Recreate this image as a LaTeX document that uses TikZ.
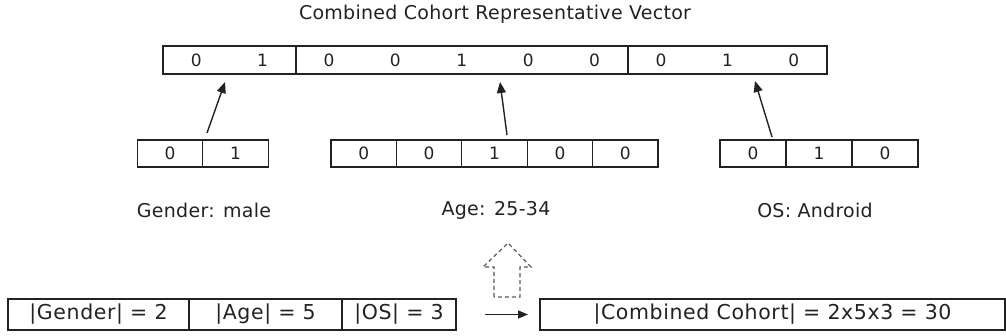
\documentclass[tikz,border=0pt]{standalone}
\usepackage{fontspec}
\setmainfont{DejaVu Sans}
\newfontfamily\labelfont{DejaVu Sans}[LetterSpace=1.5]
\newfontfamily\sizefont{DejaVu Sans}[LetterSpace=3]
\usetikzlibrary{arrows.meta}
\definecolor{ink}{HTML}{222222}
\begin{document}
\begin{tikzpicture}[x=1pt,y=-1pt,
  every node/.style={text=ink,inner sep=0pt,outer sep=0pt},
  caption/.style={font=\labelfont\fontsize{19}{22}\selectfont},
  bit/.style={font=\fontsize{17}{20}\selectfont},
  sizetext/.style={font=\sizefont\fontsize{20.5}{24}\selectfont},
  frame/.style={draw=ink,line width=1.4pt,minimum height=#1},
  frame/.default=28pt,
  cell/.style={draw=ink,line width=1.3pt,minimum height=27pt,minimum width=#1},
  pointer/.style={draw=ink,line width=1.4pt,-{Triangle[length=11pt,width=9pt]}}]
\useasboundingbox (0,0) rectangle (1006,336);

% title
\node[caption] (title) at (495,14) {Combined Cohort Representative Vector};

% combined vector: three groups of cells
\node[frame,minimum width=133pt] (vg) at (229.5,60) {};
\node[frame,minimum width=332pt] (va) at (462,60) {};
\node[frame,minimum width=199pt] (vo) at (727.5,60) {};
\foreach \v [count=\i from 0] in {0,1,0,0,1,0,0,0,1,0}
  \node[bit] (v\i) at ({163+66.4*(\i+0.5)},60) {\v};

% gender one-hot
\node[cell=65.5pt,bit] (g0) at (170,153.5) {0};
\node[cell=65.5pt,bit] (g1) at (235.5,153.5) {1};
% age one-hot
\foreach \v [count=\i from 0] in {0,0,1,0,0}
  \node[cell=65.4pt,bit] (a\i) at ({331+65.4*(\i+0.5)},153.5) {\v};
% os one-hot
\foreach \v [count=\i from 0] in {0,1,0}
  \node[cell=66pt,bit] (o\i) at ({720+66*(\i+0.5)},153.5) {\v};

% attribute labels
\node[caption] (lg) at (204,210) {Gender: male};
\node[caption] (la) at (496,210) {Age: 25-34};
\node[caption] (lo) at (815,210) {OS: Android};

% pointers into the combined vector
\coordinate (gt) at (207,133);
\coordinate (gh) at (225,82);
\coordinate (at) at (507,135);
\coordinate (ah) at (500,82);
\coordinate (ot) at (772,137);
\coordinate (oh) at (755,81);
\draw[pointer] (gt) -- (gh);
\draw[pointer] (at) -- (ah);
\draw[pointer] (ot) -- (oh);

% cardinalities
\node[cell=181pt,minimum height=31pt,sizetext] (cg) at (98.5,314.5) {|Gender| = 2};
\node[cell=153pt,minimum height=31pt,sizetext] (ca) at (265.5,314.5) {|Age| = 5};
\node[cell=114pt,minimum height=31pt,sizetext] (co) at (399,314.5) {|OS| = 3};
\node[cell=465pt,minimum height=31pt,sizetext] (cc) at (772.5,314.5) {|Combined Cohort| = 2x5x3 = 30};
\draw[draw=ink,line width=1.4pt,-{Triangle[length=10pt,width=8pt]}]
  ([xshift=29pt]co.east) -- ([xshift=-12pt]cc.west);

% dashed block arrow
\draw[draw=ink!75,line width=1.2pt,dash pattern=on 4pt off 3pt,line join=miter]
  (494,297) -- (494,267) -- (483,267) -- (508,243) -- (531,267) -- (520,267) -- (520,297) -- cycle;
\end{tikzpicture}
\end{document}
